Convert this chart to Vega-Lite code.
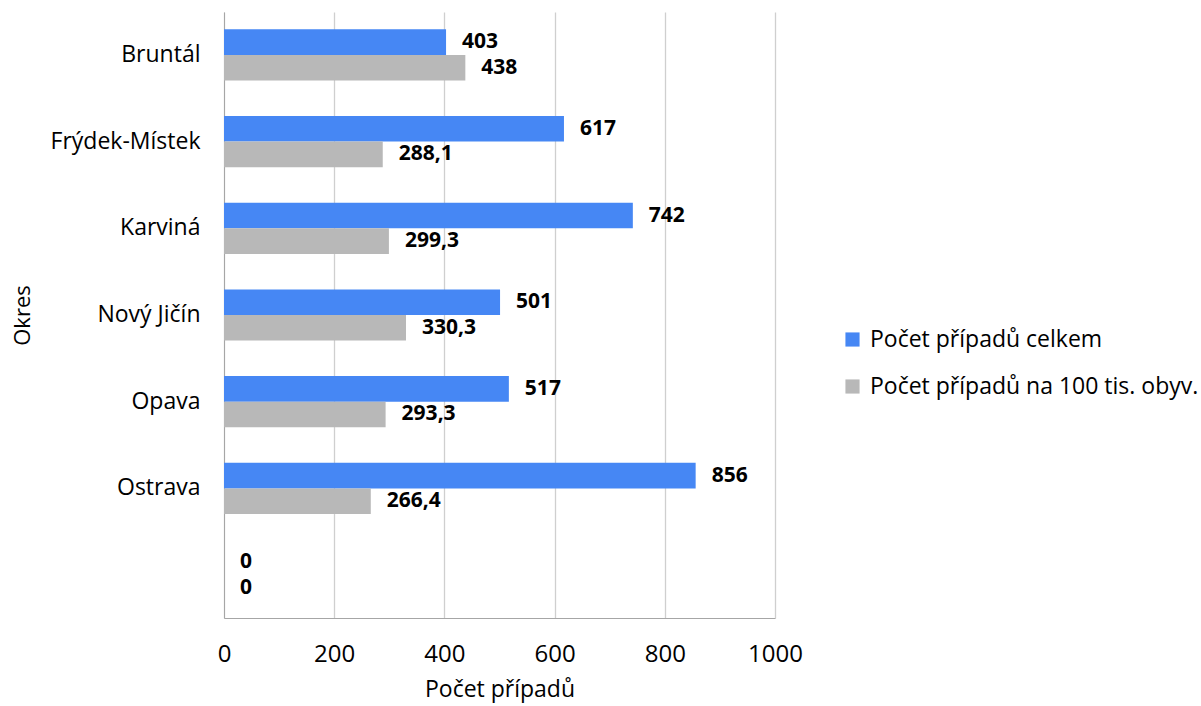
{
  "$schema": "https://vega.github.io/schema/vega-lite/v6.json",
  "width": 551,
  "height": 606,
  "autosize": {"type": "none"},
  "padding": {"left": 224, "top": 12, "right": 426, "bottom": 88},
  "config": {
    "font": "Open Sans",
    "view": {"stroke": null},
    "locale": {"number": {"decimal": ",", "thousands": " ", "grouping": [3], "currency": ["", " Kč"]}}
  },
  "data": {
    "values": [
      {"okres": "Bruntál", "serie": "Počet případů celkem", "hodnota": 403},
      {"okres": "Bruntál", "serie": "Počet případů na 100 tis. obyv.", "hodnota": 438},
      {"okres": "Frýdek-Místek", "serie": "Počet případů celkem", "hodnota": 617},
      {"okres": "Frýdek-Místek", "serie": "Počet případů na 100 tis. obyv.", "hodnota": 288.1},
      {"okres": "Karviná", "serie": "Počet případů celkem", "hodnota": 742},
      {"okres": "Karviná", "serie": "Počet případů na 100 tis. obyv.", "hodnota": 299.3},
      {"okres": "Nový Jičín", "serie": "Počet případů celkem", "hodnota": 501},
      {"okres": "Nový Jičín", "serie": "Počet případů na 100 tis. obyv.", "hodnota": 330.3},
      {"okres": "Opava", "serie": "Počet případů celkem", "hodnota": 517},
      {"okres": "Opava", "serie": "Počet případů na 100 tis. obyv.", "hodnota": 293.3},
      {"okres": "Ostrava", "serie": "Počet případů celkem", "hodnota": 856},
      {"okres": "Ostrava", "serie": "Počet případů na 100 tis. obyv.", "hodnota": 266.4},
      {"okres": " ", "serie": "Počet případů celkem", "hodnota": 0},
      {"okres": " ", "serie": "Počet případů na 100 tis. obyv.", "hodnota": 0}
    ]
  },
  "encoding": {
    "y": {
      "field": "okres",
      "type": "nominal",
      "sort": null,
      "scale": {"paddingInner": 0.41, "paddingOuter": 0.2},
      "axis": {
        "title": "Okres",
        "titleFontSize": 22,
        "titleFontWeight": "normal",
        "titleColor": "#000000",
        "titlePadding": 16,
        "labelFontSize": 23,
        "labelColor": "#000000",
        "labelPadding": 24,
        "labelLimit": 300,
        "ticks": false,
        "domain": true,
        "domainColor": "#a6a6a6",
        "grid": false
      }
    },
    "yOffset": {"field": "serie", "type": "nominal", "sort": null},
    "x": {
      "field": "hodnota",
      "type": "quantitative",
      "scale": {"domain": [0, 1000], "nice": false},
      "axis": {
        "title": "Počet případů",
        "titleFontSize": 23,
        "titleFontWeight": "normal",
        "titleColor": "#000000",
        "titlePadding": 12,
        "labelFontSize": 24,
        "labelColor": "#000000",
        "labelPadding": 24,
        "labelFlush": false,
        "format": "d",
        "values": [0, 200, 400, 600, 800, 1000],
        "ticks": false,
        "domainColor": "#a6a6a6",
        "grid": true,
        "gridColor": "#cfcfcf",
        "gridWidth": 1.3
      }
    }
  },
  "layer": [
    {
      "mark": {"type": "bar"},
      "encoding": {
        "color": {
          "field": "serie",
          "type": "nominal",
          "sort": null,
          "scale": {"domain": ["Počet případů celkem", "Počet případů na 100 tis. obyv."], "range": ["#4687f4", "#b8b8b8"]},
          "legend": {
            "title": null,
            "orient": "none",
            "legendX": 617,
            "legendY": 316,
            "labelFontSize": 23,
            "labelColor": "#000000",
            "symbolType": "square",
            "symbolSize": 200,
            "symbolStrokeWidth": 0,
            "rowPadding": 23,
            "labelOffset": 6,
            "labelLimit": 400
          }
        }
      }
    },
    {
      "mark": {"type": "text", "align": "left", "baseline": "middle", "dx": 16, "fontSize": 21, "fontWeight": "bold", "color": "#000000"},
      "encoding": {
        "text": {"field": "hodnota", "type": "quantitative", "format": "~r"}
      }
    }
  ]
}
